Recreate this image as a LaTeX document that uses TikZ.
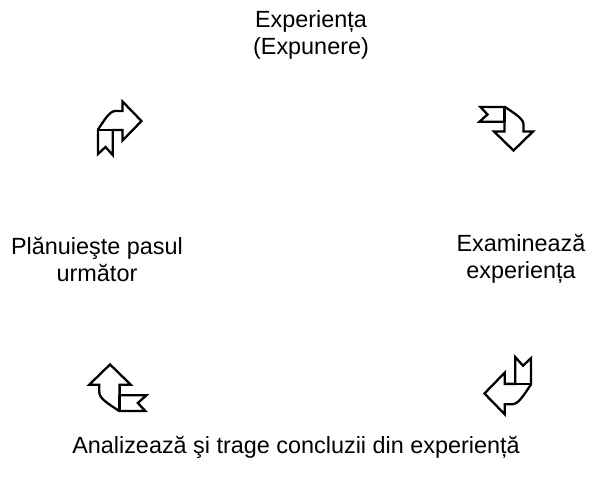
\documentclass[tikz,border=0pt]{standalone}
\usepackage{fontspec}
\setmainfont{Liberation Sans}
\begin{document}
\begin{tikzpicture}[x=1pt,y=-1pt,
  glyph/.style={draw=black,line width=2.3pt,fill=white,line join=miter},
  lbl/.style={align=center,font=\fontsize{23.4}{27}\selectfont,inner sep=0pt},
  ribbonarrow/.pic={
    \draw[glyph] (-21.5,26) -- (-21.5,1.5)
      .. controls (-15,-8) and (-10,-17) .. (-4,-17)
      -- (3,-17) -- (3,-26.5) -- (22,-7) -- (3,12.5) -- (3,2)
      -- (-6.8,2) -- (-6.8,27) -- (-14,19) -- cycle;
    \draw[line width=2.3pt] (-21.5,2) -- (-6.8,2);
  }]
\useasboundingbox (0,0) rectangle (594,485);
\node[lbl] (exp) at (311,35) {Experiența\\(Expunere)};
\node[lbl] (plan) at (97,259) {Plănuieşte pasul\\următor};
\node[lbl] (exam) at (521,259) {Examinează\\experiența};
\node[lbl] (anal) at (296,447) {Analizează şi trage concluzii din experiență};
\pic at (119.5,128) {ribbonarrow};
\pic[rotate=-90] at (506.5,128.5) {ribbonarrow};
\pic[rotate=180,scale=1.07] at (508,386) {ribbonarrow};
\pic[rotate=90,scale=1.07] at (117.5,388) {ribbonarrow};
\end{tikzpicture}
\end{document}
